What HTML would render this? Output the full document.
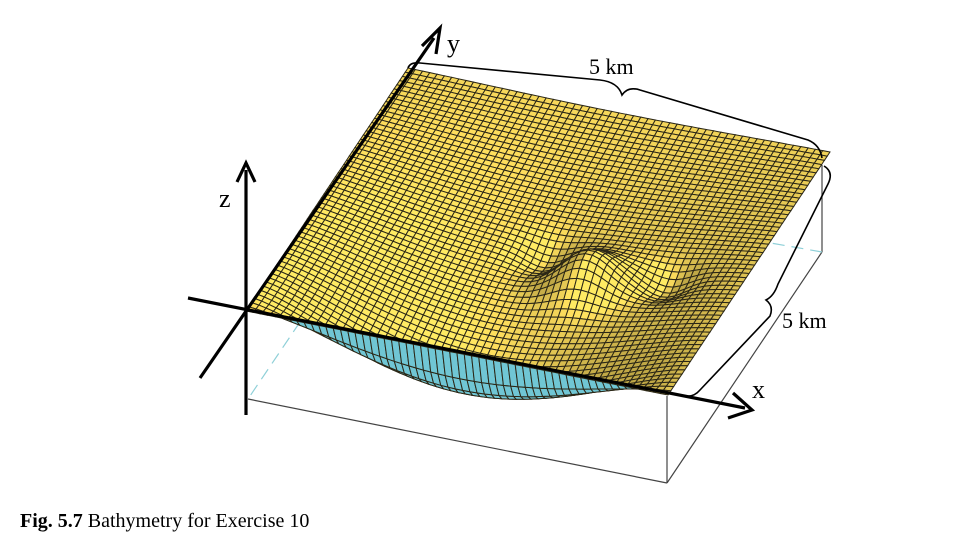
<!DOCTYPE html>
<html><head><meta charset="utf-8"><style>
html,body{margin:0;padding:0;background:#fff;width:976px;height:552px;overflow:hidden}
svg{display:block}
text{font-family:"Liberation Serif",serif}
</style></head><body>
<svg id="fig" width="976" height="552" viewBox="0 0 976 552" xmlns="http://www.w3.org/2000/svg">
<g id="box" stroke="#444" stroke-width="1.2" fill="none">
<line x1="248" y1="399" x2="667" y2="483"/>
<line x1="667" y1="396" x2="667" y2="483"/>
<line x1="822" y1="165" x2="822" y2="252"/>
<line x1="822" y1="252" x2="667" y2="483"/>
</g>
<g stroke="#8fd0d8" stroke-width="1.2" stroke-dasharray="12,7" fill="none">
<line x1="300" y1="322" x2="250" y2="396"/>
<line x1="822" y1="252" x2="765" y2="242"/>
</g>
<g id="mesh"></g>
<g stroke="#000" stroke-width="3.2" fill="none">
<line x1="188" y1="298" x2="745" y2="408"/>
<line x1="200" y1="378" x2="434" y2="38"/>
<line x1="246" y1="415" x2="246" y2="170"/>
</g>
<g fill="none" stroke="#000" stroke-width="3.2">
<polyline points="733,393 752,410 728,418"/>
<polyline points="422,46 440,28 436,54"/>
<polyline points="237,182 246,163 255,182"/>
</g>
<text x="447" y="52" font-size="26">y</text>
<text x="219" y="207" font-size="26">z</text>
<text x="752" y="398" font-size="26">x</text>
<path d="M408,68 Q410,62 420,63 L600,80 Q618,82 622,95 Q628,86 640,90 L808,140 Q820,145 822,158" stroke="#000" stroke-width="1.6" fill="none"/>
<text x="589" y="74" font-size="22">5 km</text>
<path d="M824,166 Q834,172 828,184 L778,284 Q774,296 766,300 Q774,306 770,316 L700,390 Q694,397 686,396" stroke="#000" stroke-width="1.6" fill="none"/>
<text x="782" y="328" font-size="22">5 km</text>
<text x="20" y="527" font-size="20"><tspan font-weight="bold">Fig. 5.7</tspan>  Bathymetry for Exercise 10</text>
</svg>
<script>
// surface parameters (data)
const gridSize = [58];
const trenchDepth = [80];        // depth of the trough behind the front edge
const trenchRise = [0.035];      // steepness of the front wall
const trenchDecay = [0.3];       // decay of trough towards the back
const bowlDepth = [10];
const bumpParams = [0.64, 0.43, 0.06, 32];   // u, v, width, height
const dipParams = [[0.82, 0.46, 0.045, 14], [0.52, 0.50, 0.045, 12]];

const O=[246,311], EX=[422,84], EY=[162,-243];
function proj(u,v,z){return [O[0]+EX[0]*u+EY[0]*v, O[1]+EX[1]*u+EY[1]*v - z];}
function depth(u,v){
  let z = -trenchDepth[0]*Math.pow(Math.sin(Math.PI*u),1.3)*(1-Math.exp(-v/trenchRise[0]))*Math.exp(-v/trenchDecay[0]);
  z += -bowlDepth[0]*Math.sin(Math.PI*u)*Math.sin(Math.PI*v);
  const b=bumpParams;
  z += b[3]*Math.exp(-((u-b[0])**2+(v-b[1])**2)/(2*b[2]*b[2]));
  for(const d of dipParams){ z -= d[3]*Math.exp(-((u-d[0])**2+(v-d[1])**2)/(2*d[2]*d[2])); }
  return z;
}
const N=gridSize[0];
const P=[];
for(let i=0;i<=N;i++){P.push([]);for(let j=0;j<=N;j++){const u=i/N,v=j/N;const z=depth(u,v);P[i].push({p:proj(u,v,z),z:z});}}
const quads=[];
for(let i=0;i<N;i++)for(let j=0;j<N;j++){
  const a=P[i][j].p,b=P[i+1][j].p,c=P[i+1][j+1].p,d=P[i][j+1].p;
  const area=(c[0]-a[0])*(d[1]-b[1])-(c[1]-a[1])*(d[0]-b[0]);
  const base=proj((i+.5)/N,(j+.5)/N,0);
  const dzu=(P[i+1][j].z-P[i][j].z)*N, dzv=(P[i][j+1].z-P[i][j].z)*N;
  quads.push({pts:[a,b,c,d],key:base[1],under:area>0,su:dzu,sv:dzv});
}
quads.sort((p,q)=>p.key-q.key);
const g=document.getElementById('mesh');
const NS='http://www.w3.org/2000/svg';
for(const q of quads){
  const el=document.createElementNS(NS,'polygon');
  el.setAttribute('points',q.pts.map(p=>p[0].toFixed(1)+','+p[1].toFixed(1)).join(' '));
  let s=1 - Math.max(-0.12,Math.min(0.2,(q.su*0.0015 - q.sv*0.0006)));
  let col;
  if(q.under){col='rgb(112,198,212)';}
  else{col=`rgb(${Math.min(255,Math.round(240*s))},${Math.min(255,Math.round(210*s))},${Math.round(88*s)})`;}
  el.setAttribute('fill',col);
  el.setAttribute('stroke','#2b2716');
  el.setAttribute('stroke-width','1');
  
  
  g.appendChild(el);
}
</script>
</body></html>
